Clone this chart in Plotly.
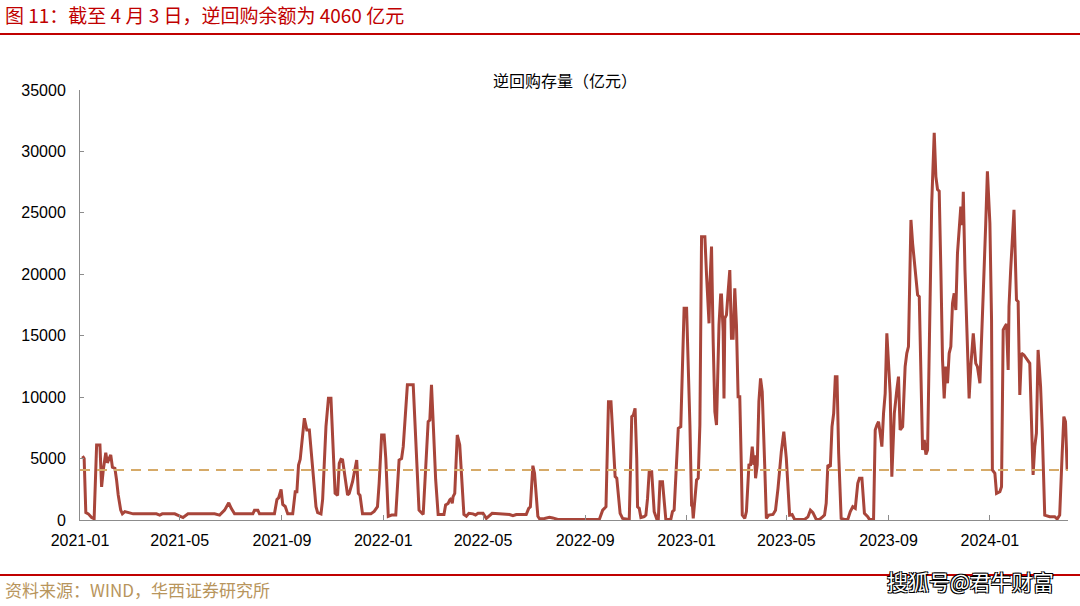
import plotly.graph_objects as go

# ---------------- data ----------------
DATES_2021 = [
    "2021-01-04", "2021-01-06", "2021-01-08", "2021-01-11", "2021-01-15", "2021-01-18",
    "2021-01-21", "2021-01-25", "2021-01-27", "2021-01-29", "2021-02-01", "2021-02-03",
    "2021-02-05", "2021-02-07", "2021-02-09", "2021-02-12", "2021-02-14", "2021-02-16",
    "2021-02-19", "2021-02-21", "2021-02-24", "2021-03-02", "2021-03-06", "2021-04-03",
    "2021-04-07", "2021-04-10", "2021-04-25", "2021-05-05", "2021-05-11", "2021-06-12",
    "2021-06-18", "2021-06-24", "2021-06-29", "2021-07-02", "2021-07-06", "2021-07-28",
    "2021-07-30", "2021-08-03", "2021-08-05", "2021-08-23", "2021-08-26", "2021-08-28",
    "2021-08-31", "2021-09-02", "2021-09-05", "2021-09-08", "2021-09-14", "2021-09-17",
    "2021-09-19", "2021-09-21", "2021-09-23", "2021-09-28", "2021-10-01", "2021-10-04",
    "2021-10-07", "2021-10-12", "2021-10-14", "2021-10-18", "2021-10-20", "2021-10-24",
    "2021-10-27", "2021-10-30", "2021-11-04", "2021-11-07", "2021-11-09", "2021-11-11",
    "2021-11-13", "2021-11-19", "2021-11-21", "2021-11-25", "2021-11-30", "2021-12-02",
    "2021-12-04", "2021-12-07", "2021-12-17", "2021-12-21", "2021-12-25", "2021-12-27",
    "2021-12-30",
]
VALUES_2021 = [
    5200, 5000, 600, 500, 200, 100,
    6100, 6100, 2700, 4070, 5480, 4650,
    5000, 5300, 4290, 4200, 3260, 2040,
    800, 500, 680, 600, 500, 500,
    400, 500, 500, 200, 500, 500,
    400, 800, 1400, 950, 500, 500,
    800, 800, 500, 500, 1670, 1800,
    2480, 1260, 1100, 500, 500, 2300,
    2300, 4480, 4940, 8280, 7330, 7330,
    5020, 1080, 600, 500, 1670, 7600,
    9900, 9900, 2170, 2000, 4620, 4940,
    4900, 2040, 2170, 3120, 4880, 2170,
    2000, 500, 500, 700, 1080, 2990,
    6920,
]

DATES_2022 = [
    "2022-01-02", "2022-01-04", "2022-01-07", "2022-01-11", "2022-01-16", "2022-01-20",
    "2022-01-23", "2022-01-25", "2022-01-30", "2022-02-06", "2022-02-10", "2022-02-13",
    "2022-02-18", "2022-02-24", "2022-02-26", "2022-02-28", "2022-03-02", "2022-03-05",
    "2022-03-08", "2022-03-15", "2022-03-17", "2022-03-20", "2022-03-22", "2022-03-24",
    "2022-03-25", "2022-03-26", "2022-03-28", "2022-03-31", "2022-04-03", "2022-04-08",
    "2022-04-11", "2022-04-14", "2022-04-19", "2022-04-22", "2022-04-25", "2022-05-01",
    "2022-05-05", "2022-05-09", "2022-05-12", "2022-06-02", "2022-06-06", "2022-06-10",
    "2022-06-22", "2022-06-25", "2022-06-27", "2022-06-30", "2022-07-02", "2022-07-06",
    "2022-07-08", "2022-07-14", "2022-07-20", "2022-07-24", "2022-07-30", "2022-09-18",
    "2022-09-22", "2022-09-26", "2022-09-29", "2022-10-02", "2022-10-04", "2022-10-07",
    "2022-10-09", "2022-10-13", "2022-10-16", "2022-10-24", "2022-10-27", "2022-10-29",
    "2022-10-31", "2022-11-02", "2022-11-03", "2022-11-05", "2022-11-07", "2022-11-11",
    "2022-11-13", "2022-11-15", "2022-11-17", "2022-11-20", "2022-11-23", "2022-11-26",
    "2022-11-28", "2022-11-30", "2022-12-03", "2022-12-05", "2022-12-07", "2022-12-13",
    "2022-12-15", "2022-12-17", "2022-12-19", "2022-12-22", "2022-12-25", "2022-12-27",
    "2022-12-29",
]
VALUES_2022 = [
    6920, 5020, 300, 400, 400, 4880,
    5000, 5970, 11000, 11000, 4620, 800,
    450, 8000, 8140, 11000, 8000, 3300,
    450, 450, 1220, 1350, 1630, 1760,
    1350, 1900, 2170, 6920, 6100, 450,
    300, 540, 500, 400, 540, 540,
    130, 400, 540, 450, 350, 450,
    450, 950, 1080, 4420, 3800, 300,
    100, 130, 220, 170, 50, 50,
    800, 1080, 9630, 9630, 7330, 3530,
    3400, 540, 130, 50, 8410, 8550,
    9090, 5020, 1080, 950, 200, 280,
    400, 1760, 3930, 3930, 680, 100,
    100, 3120, 3120, 1490, 50, 50,
    680, 800, 3930, 7460, 7600, 13160,
    17230,
]

DATES_2023 = [
    "2023-01-01", "2023-01-03", "2023-01-05", "2023-01-07", "2023-01-08", "2023-01-09",
    "2023-01-13", "2023-01-15", "2023-01-17", "2023-01-19", "2023-01-23", "2023-01-25",
    "2023-01-28", "2023-01-29", "2023-01-31", "2023-02-02", "2023-02-04", "2023-02-06",
    "2023-02-09", "2023-02-11", "2023-02-12", "2023-02-14", "2023-02-15", "2023-02-16",
    "2023-02-18", "2023-02-20", "2023-02-22", "2023-02-24", "2023-02-26", "2023-02-28",
    "2023-03-02", "2023-03-04", "2023-03-06", "2023-03-08", "2023-03-09", "2023-03-12",
    "2023-03-14", "2023-03-17", "2023-03-19", "2023-03-21", "2023-03-23", "2023-03-24",
    "2023-03-25", "2023-03-27", "2023-03-29", "2023-03-31", "2023-04-02", "2023-04-05",
    "2023-04-07", "2023-04-10", "2023-04-15", "2023-04-18", "2023-04-21", "2023-04-25",
    "2023-04-28", "2023-05-01", "2023-05-03", "2023-05-05", "2023-05-08", "2023-05-11",
    "2023-05-23", "2023-05-27", "2023-05-30", "2023-06-02", "2023-06-06", "2023-06-10",
    "2023-06-14", "2023-06-16", "2023-06-18", "2023-06-20", "2023-06-23", "2023-06-25",
    "2023-06-27", "2023-06-29", "2023-07-01", "2023-07-03", "2023-07-06", "2023-07-10",
    "2023-07-14", "2023-07-17", "2023-07-20", "2023-07-23", "2023-07-26", "2023-07-28",
    "2023-07-31", "2023-08-03", "2023-08-07", "2023-08-09", "2023-08-14", "2023-08-16",
    "2023-08-18", "2023-08-20", "2023-08-22", "2023-08-24", "2023-08-26", "2023-08-28",
    "2023-08-30", "2023-09-01", "2023-09-03", "2023-09-05", "2023-09-08", "2023-09-11",
    "2023-09-13", "2023-09-15", "2023-09-18", "2023-09-21", "2023-09-23", "2023-09-25",
    "2023-09-28", "2023-09-30", "2023-10-03", "2023-10-06", "2023-10-08", "2023-10-10",
    "2023-10-12", "2023-10-14", "2023-10-16", "2023-10-18", "2023-10-20", "2023-10-23",
    "2023-10-26", "2023-10-28", "2023-10-30", "2023-11-01", "2023-11-03", "2023-11-05",
    "2023-11-07", "2023-11-09", "2023-11-11", "2023-11-13", "2023-11-15", "2023-11-17",
    "2023-11-19", "2023-11-21", "2023-11-23", "2023-11-27", "2023-11-29", "2023-11-30",
    "2023-12-02", "2023-12-05", "2023-12-07", "2023-12-09", "2023-12-12", "2023-12-15",
    "2023-12-17", "2023-12-20", "2023-12-22", "2023-12-24", "2023-12-27", "2023-12-29",
]
VALUES_2023 = [
    17230, 13160, 7730, 1220, 1220, 130,
    3260, 3400, 7730, 23060, 23060, 19940,
    16010, 19130, 22250, 14510, 8820, 7730,
    15870, 18320, 18320, 15330, 9900, 16420,
    16690, 18590, 20350, 14790, 14790, 18860,
    15870, 10040, 10040, 3930, 400, 130,
    680, 4480, 4500, 5970, 4480, 5270,
    3400, 4480, 9630, 11530, 10440, 4480,
    130, 400, 450, 800, 2580, 5560,
    7190, 5020, 2040, 400, 450, 50,
    50, 250, 800, 600, 50, 50,
    270, 400, 1360, 4480, 4340, 7600,
    8680, 11670, 11670, 5430, 130, 50,
    50, 680, 1080, 950, 2990, 3400,
    3400, 540, 270, 50, 50, 7330,
    7730, 8000, 7060, 5970, 8680, 10310,
    15190, 13020, 10310, 3530, 8680, 10580,
    11670, 7330, 7600, 12480, 13570, 14110,
    24420, 22520, 20620, 18320, 18180, 12210,
    5700, 6510, 5330, 5700, 14110, 25780,
    31520, 27950, 26900, 26760, 20350, 13020,
    9900, 12480, 11130, 13570, 14110, 17640,
    18450, 17090, 21710, 25510, 24010, 26720,
    20350, 14920, 9900, 12480, 15190, 12750,
    12480, 11130, 15730, 18450, 24150, 28390,
]

DATES_2024 = [
    "2024-01-01", "2024-01-03", "2024-01-04", "2024-01-07", "2024-01-09", "2024-01-13",
    "2024-01-15", "2024-01-17", "2024-01-19", "2024-01-21", "2024-01-23", "2024-01-24",
    "2024-01-26", "2024-01-28", "2024-01-30", "2024-02-02", "2024-02-04", "2024-02-06",
    "2024-02-08", "2024-02-11", "2024-02-15", "2024-02-18", "2024-02-20", "2024-02-22",
    "2024-02-24", "2024-02-26", "2024-02-28", "2024-03-02", "2024-03-04", "2024-03-07",
    "2024-03-13", "2024-03-19", "2024-03-22", "2024-03-25", "2024-03-28", "2024-03-30",
    "2024-04-01", "2024-04-03",
]
VALUES_2024 = [
    24150, 16280, 4070, 3800, 2170, 2300,
    2710, 15470, 15730, 15950, 12210, 17360,
    20350, 22790, 25240, 17910, 17770, 10180,
    13570, 13430, 13020, 12750, 8140, 3660,
    5970, 7060, 13840, 10850, 7330, 400,
    270, 270, 80, 400, 5430, 8410,
    8000, 4060,
]

LATEST_BALANCE = 4060          # dashed reference line (亿元)
SERIES_NAME = "逆回购存量（亿元）"
HEADER = "图 11：截至 4 月 3 日，逆回购余额为 4060 亿元"
SOURCE = "资料来源：WIND，华西证券研究所"
WATERMARK = "搜狐号@君牛财富"
X_RANGE = ["2021-01-01", "2024-04-04"]
Y_RANGE = [0, 35000]

dates = DATES_2021 + DATES_2022 + DATES_2023 + DATES_2024
values = VALUES_2021 + VALUES_2022 + VALUES_2023 + VALUES_2024

# ---------------- layout geometry ----------------
W, H = 1080, 606
L, R, T, B = 80, 12, 90, 86
PW, PH = W - L - R, H - T - B


def px_x(x):
    return (x - L) / PW


def px_y(y):
    return (H - B - y) / PH


LINE_COLOR = "#a8453a"
DASH_COLOR = "#d6aa68"
RED = "#c00000"
AXIS_GREY = "#8c8c8c"
NUM_FONT = "Liberation Sans, Arial, sans-serif"
CJK_FONT = "Noto Sans CJK SC, sans-serif"

fig = go.Figure()
fig.add_trace(go.Scatter(
    x=dates, y=values, mode="lines", name=SERIES_NAME,
    line=dict(color=LINE_COLOR, width=3),
    hoverinfo="x+y",
))
fig.add_trace(go.Scatter(
    x=X_RANGE, y=[LATEST_BALANCE, LATEST_BALANCE], mode="lines",
    line=dict(color=DASH_COLOR, width=2, dash="10px,7px"),
    hoverinfo="skip",
))

fig.update_layout(
    width=W, height=H,
    margin=dict(l=L, r=R, t=T, b=B),
    paper_bgcolor="white", plot_bgcolor="white",
    showlegend=False,
    xaxis=dict(
        type="date", range=X_RANGE,
        tick0="2021-01-01", dtick="M4", tickformat="%Y-%m",
        ticks="inside", ticklen=5, tickcolor=AXIS_GREY, tickwidth=1,
        showline=True, linecolor=AXIS_GREY, linewidth=1,
        showgrid=False, zeroline=False,
        tickfont=dict(family=NUM_FONT, size=16, color="black"),
        ticklabelstandoff=6,
    ),
    yaxis=dict(
        range=Y_RANGE, dtick=5000, tickformat="d",
        ticks="inside", ticklen=4, tickcolor=AXIS_GREY, tickwidth=1,
        showline=True, linecolor=AXIS_GREY, linewidth=1,
        showgrid=False, zeroline=False,
        tickfont=dict(family=NUM_FONT, size=16, color="black"),
        ticklabelstandoff=10,
    ),
)

annotations = [
    dict(text=HEADER, x=px_x(3), y=px_y(14), xanchor="left", yanchor="middle",
         font=dict(family=CJK_FONT, size=19, color=RED)),
    dict(text=SERIES_NAME, x=px_x(565), y=px_y(80), xanchor="center", yanchor="middle",
         font=dict(family=CJK_FONT, size=16, color="black")),
    dict(text=SOURCE, x=px_x(3), y=px_y(589), xanchor="left", yanchor="middle",
         font=dict(family=CJK_FONT, size=17, color="#b8955c")),
    dict(text=WATERMARK, x=px_x(1056), y=px_y(581), xanchor="right", yanchor="middle",
         font=dict(family=CJK_FONT, size=21, color="white",
                   shadow="1px 1px 0 #000, -1px -1px 0 #000, 1px -1px 0 #000, -1px 1px 0 #000")),
]
for a in annotations:
    a.update(xref="paper", yref="paper", showarrow=False)
fig.update_layout(annotations=annotations)

fig.add_shape(type="line", xref="paper", yref="paper",
              x0=px_x(0), x1=px_x(W), y0=px_y(34), y1=px_y(34),
              line=dict(color=RED, width=2))
fig.add_shape(type="line", xref="paper", yref="paper",
              x0=px_x(0), x1=px_x(W), y0=px_y(575), y1=px_y(575),
              line=dict(color=RED, width=2))

fig.write_html(
    "out.html",
    config={"displayModeBar": False},
    post_script="document.body.style.margin='0';document.body.style.overflow='hidden';",
)
